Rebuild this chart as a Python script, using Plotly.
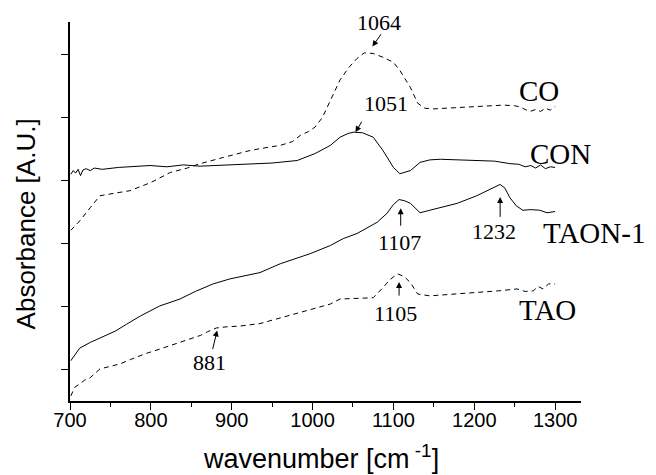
import plotly.graph_objects as go

# ---- data ----
co_x = [701, 712, 725, 737, 755, 774, 800, 824, 845, 861, 890, 923, 945, 960, 975, 985, 995, 1003, 1012,
        1022, 1034, 1045, 1055, 1064, 1075, 1087, 1100, 1108, 1121, 1130, 1139, 1150, 1170, 1190, 1207,
        1222, 1236, 1250, 1257, 1263, 1269, 1276, 1282, 1288, 1294, 1300]
co_y = [2.71, 2.86, 3.07, 3.26, 3.30, 3.34, 3.47, 3.63, 3.70, 3.77, 3.87, 3.98, 4.03, 4.06, 4.12, 4.22, 4.28, 4.35, 4.50,
        4.78, 5.10, 5.30, 5.44, 5.53, 5.52, 5.46, 5.38, 5.25, 4.98, 4.73, 4.65, 4.64, 4.65, 4.67, 4.68,
        4.69, 4.70, 4.69, 4.67, 4.63, 4.60, 4.63, 4.60, 4.65, 4.62, 4.68]

con_x = [701, 704, 707, 710, 713, 716, 720, 725, 730, 740, 760, 780, 799, 820, 840, 861, 880, 900, 923, 950,
         981, 1003, 1022, 1034, 1044, 1051, 1062, 1075, 1087, 1100, 1108, 1114, 1121, 1133, 1145, 1158, 1180,
         1207, 1225, 1244, 1255, 1263, 1270, 1276, 1282, 1288, 1294, 1300]
con_y = [3.60, 3.66, 3.62, 3.68, 3.58, 3.67, 3.69, 3.66, 3.70, 3.68, 3.71, 3.72, 3.74, 3.72, 3.75, 3.73, 3.74, 3.75, 3.77, 3.78,
         3.82, 3.93, 4.06, 4.19, 4.25, 4.27, 4.26, 4.19, 3.98, 3.71, 3.61, 3.63, 3.66, 3.79, 3.83, 3.84, 3.83,
         3.82, 3.81, 3.77, 3.76, 3.72, 3.74, 3.70, 3.75, 3.69, 3.72, 3.71]

taon_x = [701, 712, 725, 737, 756, 770, 787, 811, 836, 855, 877, 898, 915, 935, 960, 980, 997, 1022, 1038, 1055,
          1067, 1080, 1092, 1100, 1107, 1114, 1121, 1133, 1145, 1160, 1179, 1203, 1220, 1232, 1238, 1244,
          1252, 1260, 1270, 1281, 1290, 1300]
taon_y = [0.64, 0.84, 0.93, 1.00, 1.11, 1.22, 1.35, 1.51, 1.62, 1.74, 1.86, 1.94, 1.99, 2.04, 2.18, 2.26, 2.34, 2.47, 2.58, 2.66,
          2.75, 2.84, 2.98, 3.12, 3.20, 3.18, 3.14, 2.99, 3.03, 3.08, 3.14, 3.26, 3.36, 3.44, 3.38, 3.23,
          3.10, 3.03, 3.04, 3.03, 2.99, 3.01]

tao_x = [701, 706, 712, 718, 725, 737, 750, 762, 775, 793, 810, 830, 845, 861, 870, 881, 895, 910, 935, 960,
         980, 997, 1022, 1034, 1055, 1075, 1087, 1096, 1105, 1113, 1121, 1130, 1145, 1170, 1207, 1230,
         1253, 1263, 1273, 1279, 1285, 1292, 1300]
tao_y = [0.08, 0.22, 0.27, 0.33, 0.37, 0.51, 0.55, 0.59, 0.66, 0.75, 0.82, 0.91, 0.97, 1.04, 1.10, 1.16, 1.18, 1.19, 1.23, 1.32,
         1.39, 1.46, 1.54, 1.62, 1.63, 1.64, 1.80, 1.93, 2.02, 1.98, 1.88, 1.70, 1.67, 1.69, 1.72, 1.75,
         1.78, 1.74, 1.75, 1.82, 1.78, 1.86, 1.86]

x_ticks = [700, 800, 900, 1000, 1100, 1200, 1300]
y_ticks = [0.5, 1.5, 2.5, 3.5, 4.5, 5.5]

x_title = "wavenumber [cm<sup> -1</sup>]"
y_title = "Absorbance [A.U.]"

# curve labels in paper coordinates: (text, x, y)
curve_labels = [("CO", 0.918, 0.819), ("CON", 0.959, 0.653), ("TAON-1", 1.025, 0.442), ("TAO", 0.935, 0.240)]
# peak labels: (text, text_x, text_y, arrow_tail_x, arrow_tail_y, arrow_tip_x, arrow_tip_y)
peak_labels = [
    ("1064", 1082, 6.02, 1086, 5.85, 1074, 5.63),
    ("1051", 1091, 4.72, 1062, 4.46, 1053, 4.27),
    ("1107", 1107, 2.52, 1109, 2.76, 1109, 3.06),
    ("1232", 1224, 2.70, 1232, 2.90, 1232, 3.24),
    ("1105", 1102, 1.39, 1107, 1.65, 1107, 1.89),
    ("881", 873, 0.61, 876, 0.80, 882, 1.12),
]

fig = go.Figure()
dash = "5px,4px"
for xs, ys, d in [(co_x, co_y, dash), (con_x, con_y, "solid"), (taon_x, taon_y, "solid"), (tao_x, tao_y, dash)]:
    fig.add_trace(go.Scatter(x=xs, y=ys, mode="lines",
                             line=dict(color="black", width=1, dash=d),
                             showlegend=False, hoverinfo="skip"))

serif = "Liberation Serif, Times New Roman, serif"
sans = "Liberation Sans, Arial, sans-serif"
for t, x, y in curve_labels:
    fig.add_annotation(x=x, y=y, xref="paper", yref="paper", xanchor="center", yanchor="middle",
                       text=t, showarrow=False, font=dict(family=serif, size=29, color="black"))

for t, tx, ty, ax, ay, hx, hy in peak_labels:
    fig.add_annotation(x=tx, y=ty, text=t, showarrow=False, font=dict(family=serif, size=22, color="black"))
    fig.add_annotation(x=hx, y=hy, ax=ax, ay=ay, axref="x", ayref="y", xref="x", yref="y",
                       text="", showarrow=True, arrowhead=2, arrowsize=1.2, arrowwidth=1, arrowcolor="black")

# axis titles
fig.add_annotation(x=0.492, y=-0.148, xref="paper", yref="paper", xanchor="center", yanchor="middle",
                   text=x_title, showarrow=False, font=dict(family=sans, size=27, color="black"))
fig.add_annotation(x=-0.0861, y=0.466, xref="paper", yref="paper", xanchor="center", yanchor="middle",
                   textangle=-90, text=y_title, showarrow=False, font=dict(family=sans, size=26, color="black"))

fig.update_layout(
    width=648, height=467,
    margin=dict(l=62, r=75, t=14, b=74),
    paper_bgcolor="white", plot_bgcolor="white",
    font=dict(family=sans, size=20, color="black"),
    xaxis=dict(range=[700, 1332], tickvals=x_ticks, ticks="outside", ticklen=7, tickwidth=1,
               tickcolor="black", showline=True, linecolor="black", linewidth=1.5,
               showgrid=False, zeroline=False, automargin=False, ticklabelstandoff=-7,
               minor=dict(dtick=50, ticks="outside", ticklen=4, tickcolor="black", showgrid=False),
               tickfont=dict(size=20)),
    yaxis=dict(range=[0, 6.02], tickvals=y_ticks, ticktext=[""] * len(y_ticks), ticks="outside",
               ticklen=7, tickwidth=1, tickcolor="black", showline=True, linecolor="black", linewidth=1.5,
               showgrid=False, zeroline=False, automargin=False),
)

fig.write_html("out.html")
